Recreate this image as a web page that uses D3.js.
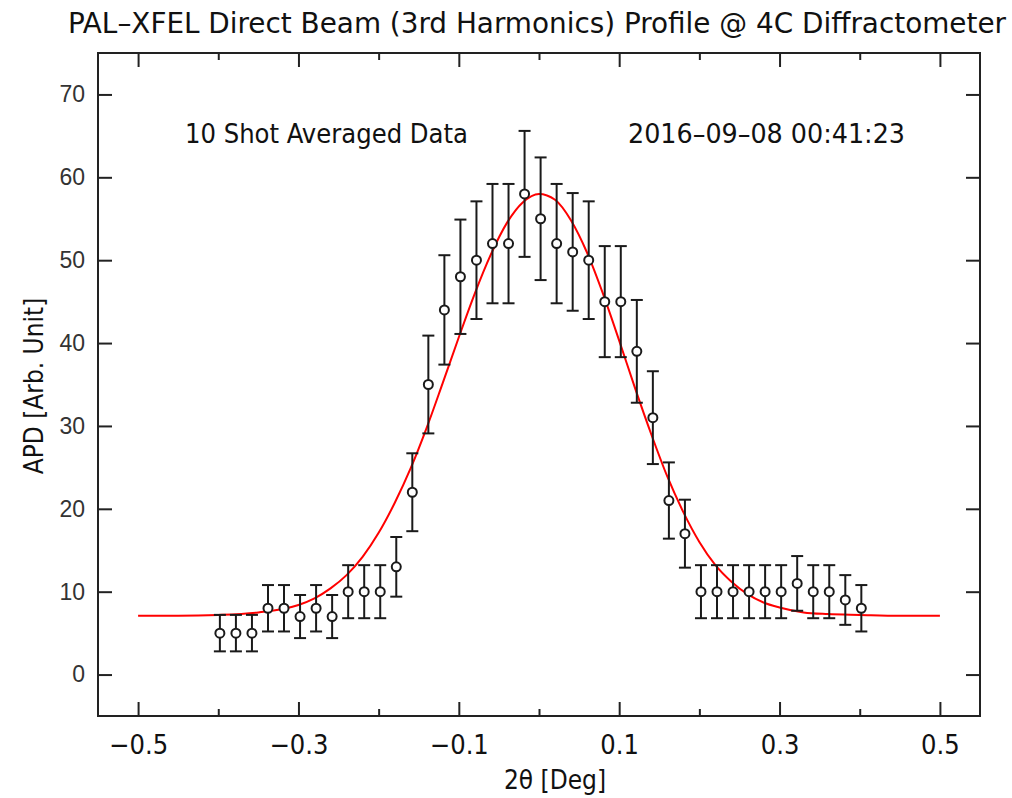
<!DOCTYPE html>
<html>
<head>
<meta charset="utf-8">
<script src="https://cdn.jsdelivr.net/npm/d3@7"></script>
<style>
  html, body { margin: 0; padding: 0; background: #fff; }
  svg { display: block; }
  .lbl { font-family: "Liberation Sans Narrow", "DejaVu Sans Condensed", sans-serif; fill: #111; }
</style>
</head>
<body>
<div id="chart"></div>
<script>
// measured points (2theta in deg, APD counts, error)
var thetaX = [-0.398, -0.378, -0.358, -0.338, -0.318, -0.298, -0.278, -0.258, -0.238, -0.218,
              -0.198, -0.178, -0.158, -0.138, -0.118, -0.098, -0.078, -0.058, -0.038, -0.018,
               0.002,  0.022,  0.042,  0.062,  0.082,  0.102,  0.122,  0.142,  0.162,  0.182,
               0.202,  0.222,  0.242,  0.262,  0.282,  0.302,  0.322,  0.342,  0.362,  0.382, 0.402];
var apdValue = [5, 5, 5, 8, 8, 7, 8, 7, 10, 10,
                10, 13, 22, 35, 44, 48, 50, 52, 52, 58,
                55, 52, 51, 50, 45, 45, 39, 31, 21, 17,
                10, 10, 10, 10, 10, 10, 11, 10, 10, 9, 8];
var apdError = [2.2, 2.2, 2.2, 2.8, 2.8, 2.6, 2.8, 2.6, 3.2, 3.2,
                3.2, 3.6, 4.7, 5.9, 6.6, 6.9, 7.1, 7.2, 7.2, 7.6,
                7.4, 7.2, 7.1, 7.1, 6.7, 6.7, 6.2, 5.6, 4.6, 4.1,
                3.2, 3.2, 3.2, 3.2, 3.2, 3.2, 3.3, 3.2, 3.2, 3.0, 2.8];

// gaussian fit curve
var fitX = [-0.50, -0.45, -0.40, -0.35, -0.32, -0.30, -0.28, -0.26, -0.24, -0.22, -0.20, -0.18, -0.16, -0.14, -0.12, -0.10, -0.08, -0.06, -0.04, -0.02,
             0.00,  0.02,  0.04,  0.06,  0.08,  0.10,  0.12,  0.14,  0.16,  0.18,  0.20,  0.22,  0.24,  0.26,  0.28,  0.30,  0.33,  0.36,  0.40,  0.45, 0.50];
var fitY = [7.1, 7.1, 7.2, 7.5, 7.9, 8.4, 9.2, 10.4, 12.0, 14.2, 17.1, 20.7, 24.9, 29.8, 35.2, 40.7, 46.0, 50.7, 54.5, 57.0,
            58.0, 57.3, 54.8, 50.9, 45.9, 40.3, 34.5, 29.0, 23.9, 19.6, 16.0, 13.2, 11.2, 9.7, 8.7, 8.1, 7.5, 7.3, 7.2, 7.1, 7.1];

var xMajor = [-0.5, -0.3, -0.1, 0.1, 0.3, 0.5];
var xMinor = [-0.4, -0.2, 0.0, 0.2, 0.4];
var yMajor = [0, 10, 20, 30, 40, 50, 60, 70];

var titleText = "PAL\u2013XFEL Direct Beam (3rd Harmonics) Profile @ 4C Diffractometer";
var noteLeft = "10 Shot Averaged Data";
var noteRight = "2016\u201309\u201308 00:41:23";

var W = 1012, H = 798;
var margin = {top: 53, right: 32, bottom: 82, left: 98};

var svg = d3.select("#chart").append("svg")
  .attr("width", W)
  .attr("height", H)
  .style("background", "#fff");

var x = d3.scaleLinear().domain([-0.55, 0.55]).range([margin.left, W - margin.right]);
var y = d3.scaleLinear().domain([-5, 75]).range([H - margin.bottom, margin.top]);

var fmt = function(d) { return (d < 0 ? "\u2212" : "") + Math.abs(d).toFixed(1); };

function styleAxis(g) {
  g.select(".domain").remove();
  g.selectAll(".tick line").attr("stroke", "#222").attr("stroke-width", 2);
}

// bottom axis (major with labels, minor short)
svg.append("g")
  .attr("transform", "translate(0," + y.range()[0] + ")")
  .call(d3.axisBottom(x).tickValues(xMajor).tickSize(-14).tickPadding(19).tickFormat(fmt))
  .call(styleAxis)
  .call(function(g) {
    g.selectAll("text").attr("class", "lbl").attr("font-size", 27).attr("fill", "#111");
  });
svg.append("g")
  .attr("transform", "translate(0," + y.range()[0] + ")")
  .call(d3.axisBottom(x).tickValues(xMinor).tickSize(-7).tickFormat(""))
  .call(styleAxis);

// top axis, mirrored ticks
svg.append("g")
  .attr("transform", "translate(0," + y.range()[1] + ")")
  .call(d3.axisTop(x).tickValues(xMajor).tickSize(-14).tickFormat(""))
  .call(styleAxis);
svg.append("g")
  .attr("transform", "translate(0," + y.range()[1] + ")")
  .call(d3.axisTop(x).tickValues(xMinor).tickSize(-7).tickFormat(""))
  .call(styleAxis);

// left and right axes
svg.append("g")
  .attr("transform", "translate(" + x.range()[0] + ",0)")
  .call(d3.axisLeft(y).tickValues(yMajor).tickSize(-14).tickPadding(13))
  .call(styleAxis)
  .call(function(g) {
    g.selectAll("text")
      .attr("font-family", "Liberation Sans, Arial, sans-serif")
      .attr("font-size", 23)
      .attr("fill", "#333");
  });
svg.append("g")
  .attr("transform", "translate(" + x.range()[1] + ",0)")
  .call(d3.axisRight(y).tickValues(yMajor).tickSize(-14).tickFormat(""))
  .call(styleAxis);

// frame
svg.append("rect")
  .attr("x", x.range()[0])
  .attr("y", y.range()[1])
  .attr("width", x.range()[1] - x.range()[0])
  .attr("height", y.range()[0] - y.range()[1])
  .attr("fill", "none")
  .attr("stroke", "#222")
  .attr("stroke-width", 2);

// fit line
var fitLine = d3.line()
  .x(function(d) { return x(d[0]); })
  .y(function(d) { return y(d[1]); })
  .curve(d3.curveMonotoneX);

svg.append("path")
  .datum(d3.zip(fitX, fitY))
  .attr("fill", "none")
  .attr("stroke", "#f00")
  .attr("stroke-width", 2)
  .attr("d", fitLine);

// data points with error bars
var pts = thetaX.map(function(t, i) { return {t: t, v: apdValue[i], e: apdError[i]}; });
var cap = 6;

var bars = svg.append("g")
  .attr("stroke", "#1a1a1a")
  .attr("stroke-width", 2)
  .selectAll("g")
  .data(pts)
  .join("g");

bars.append("line")
  .attr("x1", function(d) { return x(d.t); })
  .attr("x2", function(d) { return x(d.t); })
  .attr("y1", function(d) { return y(d.v - d.e); })
  .attr("y2", function(d) { return y(d.v + d.e); });
bars.append("line")
  .attr("x1", function(d) { return x(d.t) - cap; })
  .attr("x2", function(d) { return x(d.t) + cap; })
  .attr("y1", function(d) { return y(d.v + d.e); })
  .attr("y2", function(d) { return y(d.v + d.e); });
bars.append("line")
  .attr("x1", function(d) { return x(d.t) - cap; })
  .attr("x2", function(d) { return x(d.t) + cap; })
  .attr("y1", function(d) { return y(d.v - d.e); })
  .attr("y2", function(d) { return y(d.v - d.e); });
bars.append("circle")
  .attr("cx", function(d) { return x(d.t); })
  .attr("cy", function(d) { return y(d.v); })
  .attr("r", 4.5)
  .attr("fill", "#fff")
  .attr("stroke-width", 2);

// texts
svg.append("text")
  .attr("class", "lbl")
  .attr("x", 68).attr("y", 33)
  .attr("font-size", 28)
  .attr("textLength", 938)
  .attr("lengthAdjust", "spacingAndGlyphs")
  .text(titleText);

svg.append("text")
  .attr("class", "lbl")
  .attr("x", 185).attr("y", 143)
  .attr("font-size", 26)
  .attr("textLength", 283)
  .attr("lengthAdjust", "spacingAndGlyphs")
  .text(noteLeft);

svg.append("text")
  .attr("class", "lbl")
  .attr("x", 628).attr("y", 143)
  .attr("font-size", 26)
  .attr("textLength", 277)
  .attr("lengthAdjust", "spacingAndGlyphs")
  .text(noteRight);

svg.append("text")
  .attr("class", "lbl")
  .attr("x", 555).attr("y", 789)
  .attr("text-anchor", "middle")
  .attr("font-size", 26)
  .text("2\u03b8 [Deg]");

svg.append("text")
  .attr("class", "lbl")
  .attr("transform", "translate(43,386) rotate(-90)")
  .attr("text-anchor", "middle")
  .attr("font-size", 26)
  .text("APD [Arb. Unit]");
</script>
</body>
</html>
